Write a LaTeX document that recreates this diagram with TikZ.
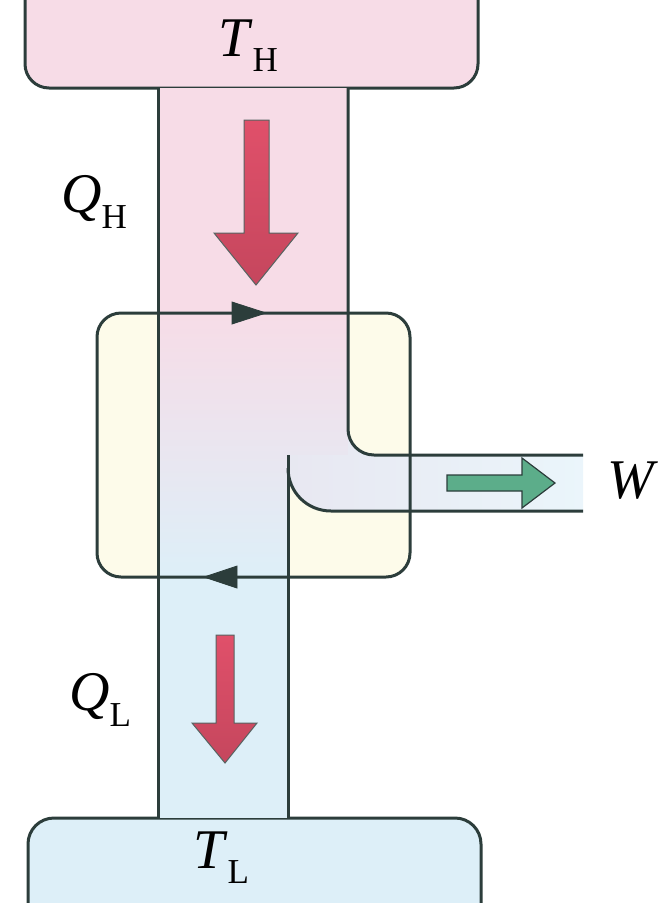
\documentclass[tikz,border=0pt]{standalone}
\usepackage{fontspec}
\setmainfont{Liberation Serif}
\usetikzlibrary{arrows.meta,positioning,calc}
\usepackage{xcolor}

\definecolor{hotpink}{HTML}{F7DCE7}
\definecolor{coldblue}{HTML}{DDEFF8}
\definecolor{engyellow}{HTML}{FDFBEA}
\definecolor{wire}{HTML}{2C3D3B}
\definecolor{heatred}{HTML}{E0506A}
\definecolor{workgreen}{HTML}{5CAD8A}

% symbol with an upright subscript, e.g. T_H
\newcommand{\tsub}[2]{\textit{#1}\raisebox{-0.27em}{\fontsize{35}{38}\selectfont #2}}

\begin{document}
\begin{tikzpicture}[x=1pt, y=-1pt,
    pipe/.style={draw=wire, line width=3pt},
    lab/.style={inner sep=0pt, font=\fontsize{56}{62}\selectfont},
    heat/.style={draw=wire!80, line width=1pt, top color=heatred, bottom color=heatred!88!black},
    work/.style={draw=wire, line width=1.2pt, fill=workgreen},
    tick/.style={fill=wire, draw=wire, line width=0.8pt}
  ]
    \useasboundingbox (0,0) rectangle (666,903);
    \clip (0,0) rectangle (666,903);

    % reservoirs
    \draw[pipe, fill=hotpink, rounded corners=24pt] (25,-10) -- (25,88) -- (478,88) -- (478,-10);
    \draw[pipe, fill=coldblue, rounded corners=26pt] (28,913) -- (28,818) -- (481,818) -- (481,913);

    % engine box
    \coordinate (engNW) at (97,313);
    \coordinate (engSE) at (410,577);
    \fill[engyellow, rounded corners=24pt] (engNW) rectangle (engSE);

    % heat flow through the engine
    \fill[hotpink] (158,88) rectangle (348,313);
    \shade[top color=hotpink, bottom color=coldblue] (158,313) -- (348,313) -- (348,455) -- (288,455) -- (288,577) -- (158,577) -- cycle;
    \fill[coldblue] (158,577) rectangle (288,818);
    \shade[left color=coldblue!60!hotpink, right color=coldblue!60!white]
      (288,455) -- (348,455) -- (348,429) .. controls (348,443.4) and (359.6,455) .. (374,455)
      -- (583,455) -- (583,511) -- (331,511) .. controls (307,511) and (288,492) .. (288,468) -- cycle;

    % pipe walls
    \draw[pipe] (158,88) -- (158,818);
    \draw[pipe] (348,88) -- (348,429) .. controls (348,443.4) and (359.6,455) .. (374,455) -- (583,455);
    \draw[pipe] (288,455) -- (288,818);
    \draw[pipe] (288,468) .. controls (288,492) and (307,511) .. (331,511) -- (583,511);

    % cycle of the engine
    \draw[pipe, rounded corners=24pt] (engNW) rectangle (engSE);
    \fill[tick] (232,302) -- (266,313) -- (232,324) -- cycle;
    \fill[tick] (237,566) -- (204,577) -- (237,588) -- cycle;

    % flow arrows
    \draw[heat] (244,120) -- (269,120) -- (269,233) -- (298,233) -- (256,285) -- (214,233) -- (244,233) -- cycle;
    \draw[heat] (216,635) -- (234,635) -- (234,723) -- (257,723) -- (225,763) -- (192,723) -- (216,723) -- cycle;
    \draw[work] (447,475) -- (522,475) -- (522,458) -- (555,483) -- (522,508) -- (522,491) -- (447,491) -- cycle;

    % labels
    \node[lab] (hot) at (248,46) {\tsub{T}{H}};
    \node[lab] (qhot) at (94,202) {\tsub{Q}{H}};
    \node[lab] (qcold) at (100,700) {\tsub{Q}{L}};
    \node[lab] (cold) at (221,858) {\tsub{T}{L}};
    \node[lab] (work) at (633,481) {\textit{W}};
  \end{tikzpicture}
\end{document}
